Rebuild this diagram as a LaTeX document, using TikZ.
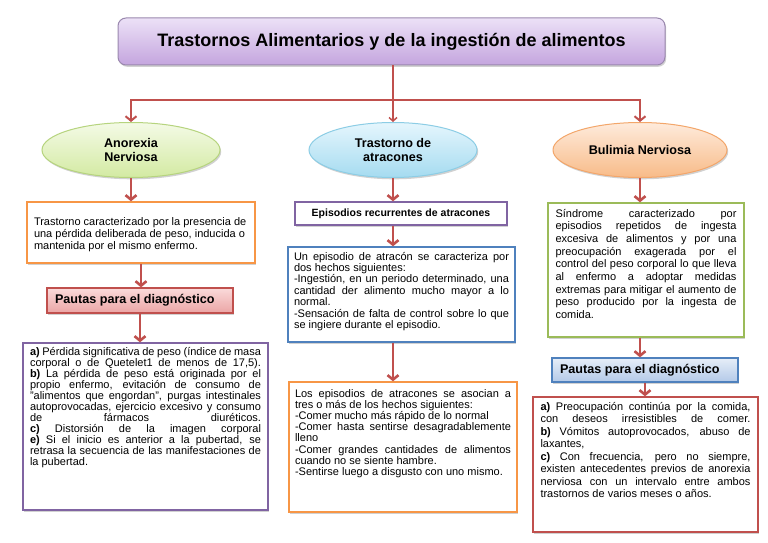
\documentclass[tikz,border=0pt]{standalone}
\usepackage{fontspec}
\setmainfont{Liberation Sans}
\usetikzlibrary{arrows.meta,shapes.geometric,shadows}
\definecolor{cred}{HTML}{C0504D}
\definecolor{corange}{HTML}{F79646}
\definecolor{cpurple}{HTML}{8064A2}
\definecolor{cblue}{HTML}{4F81BD}
\definecolor{cgreen}{HTML}{9BBB59}
\definecolor{ttop}{HTML}{ECE1F7}
\definecolor{tbot}{HTML}{C4A5DE}
\definecolor{tline}{HTML}{9A88AE}
\definecolor{gtop}{HTML}{F4FAE6}
\definecolor{gbot}{HTML}{D3EAA2}
\definecolor{gline}{HTML}{B6D47E}
\definecolor{btop}{HTML}{E5F6FD}
\definecolor{bbot}{HTML}{A5DBF0}
\definecolor{bline}{HTML}{8CCDE5}
\definecolor{otop}{HTML}{FEEBDC}
\definecolor{obot}{HTML}{F8BB88}
\definecolor{oline}{HTML}{F3A66A}
\definecolor{ptop}{HTML}{FADADA}
\definecolor{pbot}{HTML}{EBA5A5}
\definecolor{qtop}{HTML}{E6EEF8}
\definecolor{qbot}{HTML}{B3C9E8}
\newcommand{\J}[1]{\makebox[\linewidth][s]{#1}}
\newcommand{\tbx}[4]{\parbox[c][#2][t]{#1}{\fontsize{11}{#3}\selectfont\rule{0pt}{9.5pt}#4}}
\tikzset{
 conn/.style={draw=cred, line width=2pt},
 arr/.style={draw=cred, line width=2.6pt, -{Straight Barb[length=4.5pt,width=11pt]}},
 harr/.style={draw=cred, line width=2pt, -{Straight Barb[length=4.5pt,width=11pt]}},
 tarr/.style={draw=cred, line width=1.5pt, -{Straight Barb[length=3.5pt,width=8pt]}},
 sh/.style={drop shadow={shadow xshift=1.2pt, shadow yshift=-1.8pt, fill=black, opacity=0.18}},
 tb/.style={rectangle, fill=white, line width=1.4pt, inner sep=0pt, sh},
 ell/.style={ellipse, inner sep=0pt, line width=1pt, sh, font=\fontsize{12.6}{14.5}\selectfont\bfseries, align=center},
 headbox/.style={rectangle, line width=1.3pt, inner sep=0pt, sh, font=\fontsize{12.6}{14}\selectfont\bfseries},
}
\begin{document}
\begin{tikzpicture}[x=1pt,y=-1pt]
\useasboundingbox (0,0) rectangle (768,543);
\fill[white] (0,0) rectangle (768,543);
% title
\node[rounded corners=8pt, draw=tline, line width=1pt, top color=ttop, bottom color=tbot, sh,
  minimum width=547pt, minimum height=47pt, inner sep=0pt,
  font=\fontsize{18}{20}\selectfont\bfseries] (title) at (391.5,41.5)
  {Trastornos Alimentarios y de la ingestión de alimentos};
% ellipses
\node[ell, draw=gline, top color=gtop, bottom color=gbot, minimum width=178pt, minimum height=55pt] (e1) at (131,150) {Anorexia\\Nerviosa};
\node[ell, draw=bline, top color=btop, bottom color=bbot, minimum width=168pt, minimum height=55pt] (e2) at (393,150) {Trastorno de\\atracones};
\node[ell, draw=oline, top color=otop, bottom color=obot, minimum width=174pt, minimum height=55pt] (e3) at (640,150) {Bulimia Nerviosa};
\coordinate (hub) at (393,100);
\draw[conn] (title.south -| e2.north) -- (hub);
\draw[tarr] (hub) -- (e2.north);
\draw[harr] (hub) -| (e1.north);
\draw[harr] (hub) -| (e3.north);
% left column
\node[tb, draw=corange, minimum width=228pt, minimum height=61pt] (d1) at (141,232.5)
 {\tbx{214pt}{34pt}{12}{Trastorno caracterizado por la presencia de\\
 una pérdida deliberada de peso, inducida o\\
 mantenida por el mismo enfermo.}};
\node[headbox, draw=cred, top color=ptop, bottom color=pbot, minimum width=186pt, minimum height=25pt] (p1) at (140,300.5)
 {\makebox[170pt][l]{Pautas para el diagnóstico}};
\node[tb, draw=cpurple, minimum width=245pt, minimum height=167pt] (a1) at (145.5,426.5)
 {\tbx{231pt}{162pt}{11}{\J{\textbf{a)} Pérdida significativa de peso (índice de masa}\\
 \J{corporal o de Quetelet1 de menos de 17,5).}\\
 \J{\textbf{b)} La pérdida de peso está originada por el}\\
 \J{propio enfermo, evitación de consumo de}\\
 \J{"alimentos que engordan", purgas intestinales}\\
 \J{autoprovocadas, ejercicio excesivo y consumo}\\
 \J{de fármacos diuréticos.}\\
 \J{\textbf{c)} Distorsión de la imagen corporal}\\
 \J{\textbf{e)} Si el inicio es anterior a la pubertad, se}\\
 \J{retrasa la secuencia de las manifestaciones de}\\
 la pubertad.}};
\draw[arr] (e1.south) -- (e1.south |- d1.north);
\draw[arr] (d1.south) -- (d1.south |- p1.north);
\draw[arr] (p1.south) -- (p1.south |- a1.north);
% middle column
\node[tb, draw=cpurple, minimum width=212pt, minimum height=23pt, font=\fontsize{10.5}{12}\selectfont\bfseries] (ep) at (401,213.5)
 {Episodios recurrentes de atracones};
\node[tb, draw=cblue, minimum width=227pt, minimum height=95pt] (bl) at (401.5,294.5)
 {\tbx{215pt}{88pt}{11.4}{\J{Un episodio de atracón se caracteriza por}\\
 dos hechos siguientes:\\
 \J{-Ingestión, en un periodo determinado, una}\\
 \J{cantidad der alimento mucho mayor a lo}\\
 normal.\\
 \J{-Sensación de falta de control sobre lo que}\\
 se ingiere durante el episodio.}};
\node[tb, draw=corange, minimum width=228pt, minimum height=130pt] (or) at (403,447)
 {\tbx{216pt}{119pt}{11.2}{\J{Los episodios de atracones se asocian a}\\
 tres o más de los hechos siguientes:\\
 -Comer mucho más rápido de lo normal\\
 \J{-Comer hasta sentirse desagradablemente}\\
 lleno\\
 \J{-Comer grandes cantidades de alimentos}\\
 cuando no se siente hambre.\\
 -Sentirse luego a disgusto con uno mismo.}};
\draw[arr] (e2.south) -- (e2.south |- ep.north);
\draw[arr] (e2.south |- ep.south) -- (e2.south |- bl.north);
\draw[arr] (bl.south -| e2.south) -- (e2.south |- or.north);
% right column
\node[tb, draw=cgreen, minimum width=196pt, minimum height=134pt] (d3) at (646,270)
 {\tbx{181pt}{125pt}{12.7}{\J{Síndrome caracterizado por}\\
 \J{episodios repetidos de ingesta}\\
 \J{excesiva de alimentos y por una}\\
 \J{preocupación exagerada por el}\\
 \J{control del peso corporal lo que lleva}\\
 \J{al enfermo a adoptar medidas}\\
 \J{extremas para mitigar el aumento de}\\
 \J{peso producido por la ingesta de}\\
 comida.}};
\node[headbox, draw=cblue, top color=qtop, bottom color=qbot, minimum width=186pt, minimum height=24pt] (p3) at (645,370)
 {\makebox[170pt][l]{Pautas para el diagnóstico}};
\node[tb, draw=cred, minimum width=225pt, minimum height=135pt] (r3) at (645.5,464.5)
 {\tbx{210pt}{128pt}{12.5}{\J{\textbf{a)} Preocupación continúa por la comida,}\\
 \J{con deseos irresistibles de comer.}\\
 \J{\textbf{b)} Vómitos autoprovocados, abuso de}\\
 laxantes,\\
 \J{\textbf{c)} Con frecuencia, pero no siempre,}\\
 \J{existen antecedentes previos de anorexia}\\
 \J{nerviosa con un intervalo entre ambos}\\
 trastornos de varios meses o años.}};
\draw[arr] (e3.south) -- (e3.south |- d3.north);
\draw[arr] (d3.south -| e3.south) -- (e3.south |- p3.north);
\draw[arr] (p3.south) -- (p3.south |- r3.north);
\end{tikzpicture}
\end{document}
